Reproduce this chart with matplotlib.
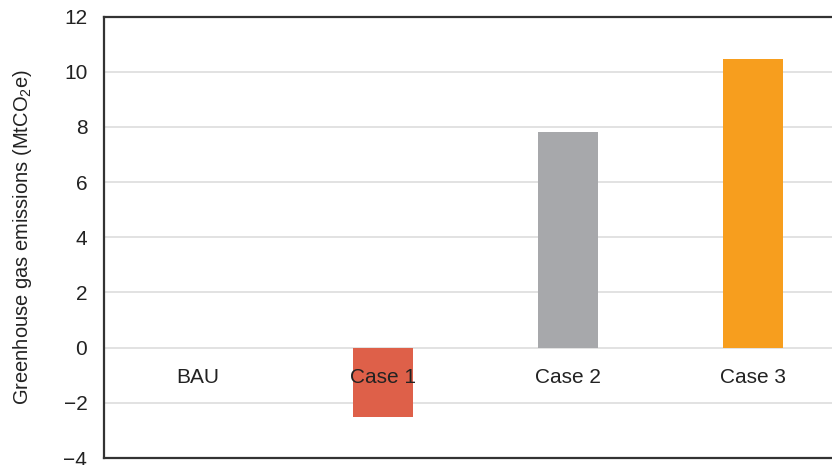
import matplotlib.pyplot as plt
import numpy as np

plt.rcParams['font.family'] = ['Liberation Sans', 'DejaVu Sans']
plt.rcParams['mathtext.fontset'] = 'custom'
plt.rcParams['mathtext.rm'] = 'Liberation Sans'
plt.rcParams['mathtext.it'] = 'Liberation Sans:italic'

cases = ['BAU', 'Case 1', 'Case 2', 'Case 3']
emissions = [0.0, -2.52, 7.83, 10.47]
colors = ['#A7A8AB', '#DE6049', '#A7A8AB', '#F79E1E']

fig = plt.figure(figsize=(8.32, 4.65), dpi=100)
ax = fig.add_axes([0.125, 0.015, 0.875, 0.9495])

x = np.arange(len(cases))
ax.bar(x, emissions, width=0.325, color=colors, zorder=3)

for xi, name in zip(x, cases):
    ax.text(xi, -1.1, name, ha='center', va='center', fontsize=15, color='#222222', zorder=4)

ax.set_xlim(-0.51, 3.43)
ax.set_ylim(-4, 12)
ax.set_yticks(np.arange(-4, 13, 2))
ax.set_xticks([])
ax.tick_params(axis='y', length=0, pad=12, labelsize=15, colors='#222222')
ax.yaxis.grid(True, color='#dddddd', linewidth=1.2, zorder=0)
ax.set_axisbelow(True)

for side in ['left', 'top', 'bottom']:
    ax.spines[side].set_color('#333333')
    ax.spines[side].set_linewidth(1.6)
ax.spines['right'].set_visible(False)

ax.set_ylabel('Greenhouse gas emissions (MtCO$_2$e)', fontsize=14.5, color='#222222', labelpad=21)

fig.savefig('out.png', dpi=100)
